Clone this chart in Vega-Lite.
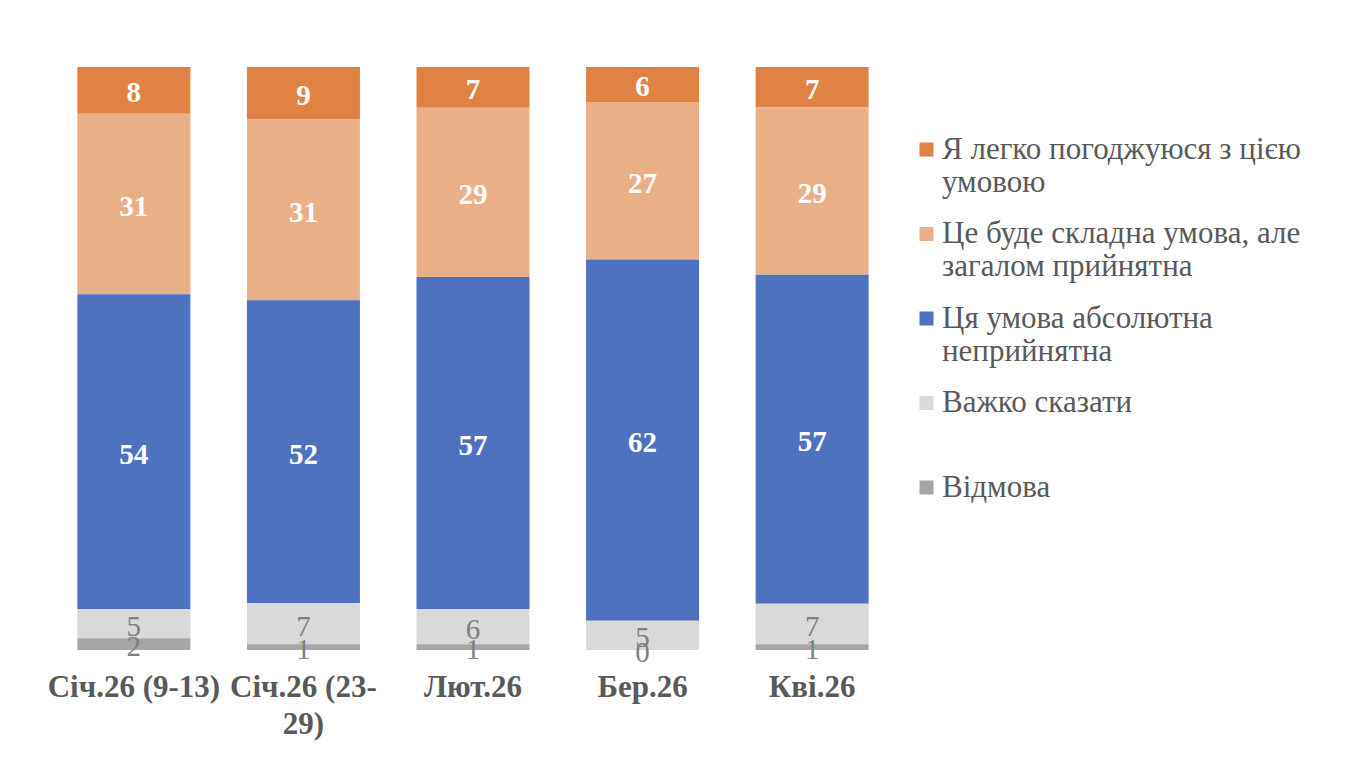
{
  "$schema": "https://vega.github.io/schema/vega-lite/v6.json",
  "width": 848,
  "height": 583,
  "autosize": "none",
  "padding": {"left": 49, "top": 67, "right": 475, "bottom": 130},
  "background": "white",
  "config": {
    "view": {"stroke": null},
    "font": "Liberation Serif, Times New Roman, serif"
  },
  "data": {
    "values": [
      {"period": "Січ.26 (9-13)", "answer": "Я легко погоджуюся з цією умовою", "value": 8},
      {"period": "Січ.26 (9-13)", "answer": "Це буде складна умова, але загалом прийнятна", "value": 31},
      {"period": "Січ.26 (9-13)", "answer": "Ця умова абсолютна неприйнятна", "value": 54},
      {"period": "Січ.26 (9-13)", "answer": "Важко сказати", "value": 5},
      {"period": "Січ.26 (9-13)", "answer": "Відмова", "value": 2},
      {"period": "Січ.26 (23-29)", "answer": "Я легко погоджуюся з цією умовою", "value": 9},
      {"period": "Січ.26 (23-29)", "answer": "Це буде складна умова, але загалом прийнятна", "value": 31},
      {"period": "Січ.26 (23-29)", "answer": "Ця умова абсолютна неприйнятна", "value": 52},
      {"period": "Січ.26 (23-29)", "answer": "Важко сказати", "value": 7},
      {"period": "Січ.26 (23-29)", "answer": "Відмова", "value": 1},
      {"period": "Лют.26", "answer": "Я легко погоджуюся з цією умовою", "value": 7},
      {"period": "Лют.26", "answer": "Це буде складна умова, але загалом прийнятна", "value": 29},
      {"period": "Лют.26", "answer": "Ця умова абсолютна неприйнятна", "value": 57},
      {"period": "Лют.26", "answer": "Важко сказати", "value": 6},
      {"period": "Лют.26", "answer": "Відмова", "value": 1},
      {"period": "Бер.26", "answer": "Я легко погоджуюся з цією умовою", "value": 6},
      {"period": "Бер.26", "answer": "Це буде складна умова, але загалом прийнятна", "value": 27},
      {"period": "Бер.26", "answer": "Ця умова абсолютна неприйнятна", "value": 62},
      {"period": "Бер.26", "answer": "Важко сказати", "value": 5},
      {"period": "Бер.26", "answer": "Відмова", "value": 0},
      {"period": "Кві.26", "answer": "Я легко погоджуюся з цією умовою", "value": 7},
      {"period": "Кві.26", "answer": "Це буде складна умова, але загалом прийнятна", "value": 29},
      {"period": "Кві.26", "answer": "Ця умова абсолютна неприйнятна", "value": 57},
      {"period": "Кві.26", "answer": "Важко сказати", "value": 7},
      {"period": "Кві.26", "answer": "Відмова", "value": 1}
    ]
  },
  "transform": [
    {
      "calculate": "indexof(['Відмова', 'Важко сказати', 'Ця умова абсолютна неприйнятна', 'Це буде складна умова, але загалом прийнятна', 'Я легко погоджуюся з цією умовою'], datum.answer)",
      "as": "order"
    }
  ],
  "encoding": {
    "x": {
      "field": "period",
      "type": "nominal",
      "sort": null,
      "scale": {"paddingInner": 0.333, "paddingOuter": 0.167},
      "axis": {
        "title": null,
        "domain": false,
        "ticks": false,
        "labelAngle": 0,
        "labelFont": "Liberation Serif, Times New Roman, serif",
        "labelFontSize": 31,
        "labelFontWeight": "bold",
        "labelColor": "#595959",
        "labelPadding": 22,
        "labelLineHeight": 37,
        "labelExpr": "datum.value == 'Січ.26 (23-29)' ? ['Січ.26 (23-', '29)'] : datum.value"
      }
    },
    "y": {
      "field": "value",
      "type": "quantitative",
      "stack": "normalize",
      "scale": {"domain": [0, 1], "nice": false},
      "axis": null
    },
    "order": {"field": "order", "type": "quantitative"}
  },
  "layer": [
    {
      "mark": {"type": "bar", "width": 113},
      "encoding": {
        "color": {
          "field": "answer",
          "type": "nominal",
          "scale": {
            "domain": ["Я легко погоджуюся з цією умовою", "Це буде складна умова, але загалом прийнятна", "Ця умова абсолютна неприйнятна", "Важко сказати", "Відмова"],
            "range": ["#DF8243", "#E9B088", "#4F72BF", "#D9D9D9", "#A6A6A6"]
          },
          "legend": {
            "title": null,
            "orient": "none",
            "legendX": 862,
            "legendY": 67,
            "symbolType": "square",
            "symbolSize": 196,
            "symbolStrokeWidth": 0,
            "labelFont": "Liberation Serif, Times New Roman, serif",
            "labelFontSize": 31,
            "labelColor": "#595959",
            "labelLimit": 500,
            "labelOffset": 0,
            "labelBaseline": "middle",
            "labelLineHeight": 37,
            "rowPadding": 19.5,
            "labelExpr": "datum.value == 'Я легко погоджуюся з цією умовою' ? ['Я легко погоджуюся з цією', 'умовою'] : datum.value == 'Це буде складна умова, але загалом прийнятна' ? ['Це буде складна умова, але', 'загалом прийнятна'] : datum.value == 'Ця умова абсолютна неприйнятна' ? ['Ця умова абсолютна', 'неприйнятна'] : datum.value == 'Важко сказати' ? ['Важко сказати', ' '] : datum.value"
          }
        }
      }
    },
    {
      "mark": {"type": "text", "fontSize": 29, "fontWeight": "bold", "color": "white", "baseline": "middle", "dy": 3},
      "encoding": {
        "y": {"field": "value", "type": "quantitative", "stack": "normalize", "bandPosition": 0.5},
        "text": {"condition": {"test": "datum.order >= 2", "field": "value", "type": "quantitative"}, "value": ""}
      }
    },
    {
      "mark": {"type": "text", "fontSize": 29, "color": "#7F7F7F", "baseline": "middle", "dy": 3},
      "encoding": {
        "y": {"field": "value", "type": "quantitative", "stack": "normalize", "bandPosition": 0.5},
        "text": {"condition": {"test": "datum.order < 2", "field": "value", "type": "quantitative"}, "value": ""}
      }
    }
  ]
}
